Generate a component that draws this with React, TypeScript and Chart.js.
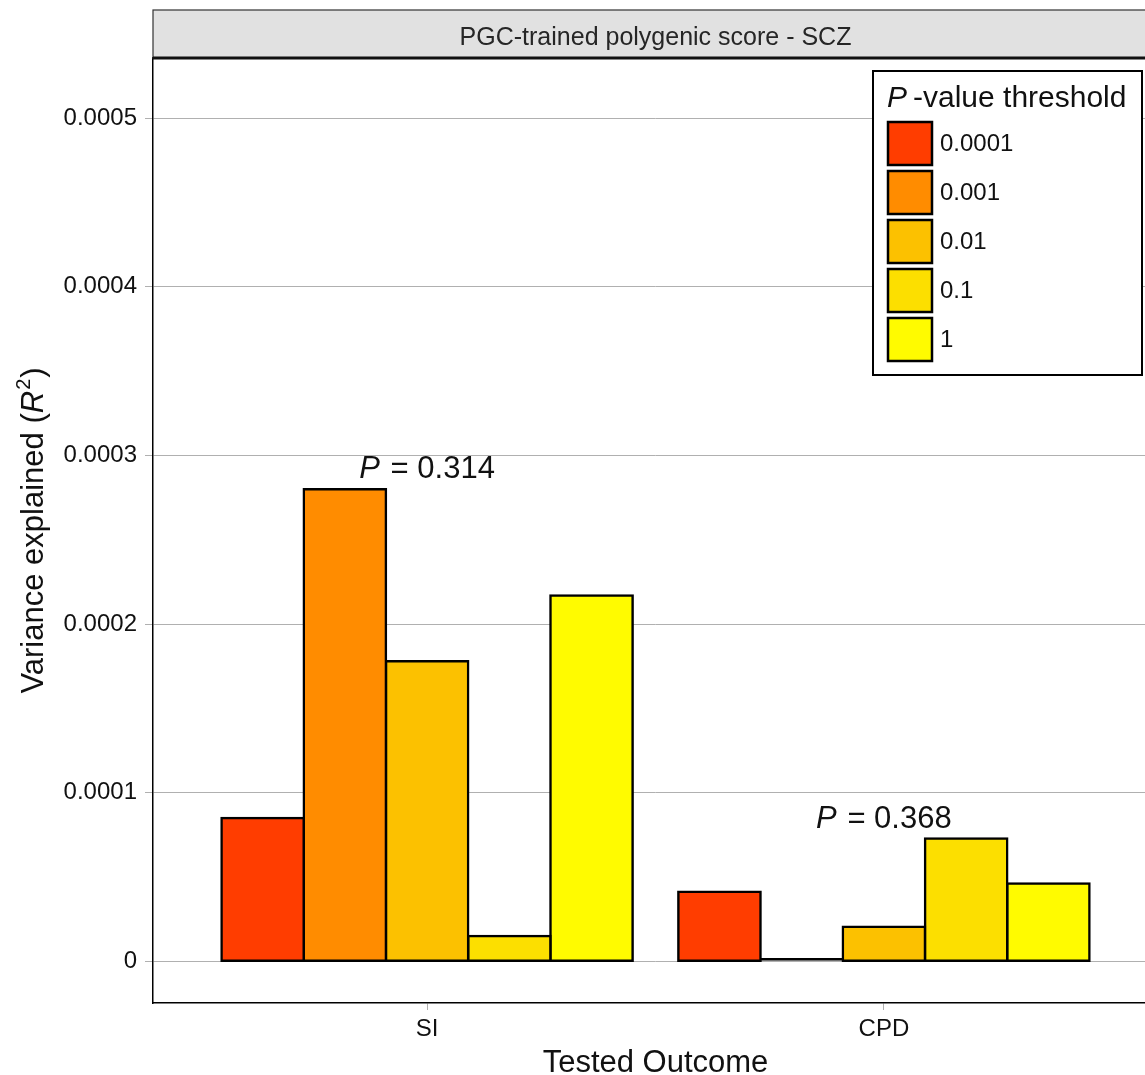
import React, { useEffect, useRef } from "react";
import { Chart, registerables } from "chart.js";

Chart.register(...registerables);

// Tested outcomes (x categories) and PRS p-value thresholds (series)
const outcomes = ["SI", "CPD"];
const thresholds = ["0.0001", "0.001", "0.01", "0.1", "1"];
const fillColors = ["#FF3D00", "#FF8C00", "#FCC100", "#FCDF00", "#FFFB00"];

// Variance explained (R^2) per threshold, ordered as in `outcomes`
const r2At0001 = [0.000085, 0.0000412];
const r2At001 = [0.00028, 0.000002];
const r2At01 = [0.000178, 0.0000205];
const r2At1 = [0.000015, 0.0000728];
const r2AtAll = [0.000217, 0.0000461];
const seriesValues = [r2At0001, r2At001, r2At01, r2At1, r2AtAll];

// P-value of the best-fitting score per outcome
const bestPValues = ["0.314", "0.368"];

const yTickValues = [0, 0.0001, 0.0002, 0.0003, 0.0004, 0.0005];
const yTickLabels = ["0", "0.0001", "0.0002", "0.0003", "0.0004", "0.0005"];
const panelTitle = "PGC-trained polygenic score - SCZ";
const xTitle = "Tested Outcome";

const FONT = '"Liberation Sans", Arial, Helvetica, sans-serif';
const INK = "#111111";
const OUTLINE = 2.5;

type Piece = { text: string; italic?: boolean; size?: number; rise?: number; gapAfter?: number };

function pieceFont(p: Piece, base: number) {
  return `${p.italic ? "italic " : ""}${p.size ?? base}px ${FONT}`;
}

function measurePieces(ctx: CanvasRenderingContext2D, pieces: Piece[], base: number) {
  let w = 0;
  for (const p of pieces) {
    ctx.font = pieceFont(p, base);
    w += ctx.measureText(p.text).width + (p.gapAfter ?? 0);
  }
  return w;
}

function drawPieces(
  ctx: CanvasRenderingContext2D,
  pieces: Piece[],
  x: number,
  y: number,
  base: number,
  align: "left" | "center"
) {
  const total = measurePieces(ctx, pieces, base);
  let cx = align === "center" ? x - total / 2 : x;
  ctx.textAlign = "left";
  ctx.textBaseline = "alphabetic";
  for (const p of pieces) {
    ctx.font = pieceFont(p, base);
    ctx.fillText(p.text, cx, y - (p.rise ?? 0));
    cx += ctx.measureText(p.text).width + (p.gapAfter ?? 0);
  }
}

const decorations = {
  id: "decorations",
  afterDraw(chart: any) {
    const { ctx, chartArea: a, scales } = chart;
    const xs = scales.x;
    const ys = scales.y;
    ctx.save();

    // facet strip
    const stripTop = 10;
    ctx.fillStyle = "#E1E1E1";
    ctx.fillRect(a.left, stripTop, a.right - a.left, a.top - stripTop);
    ctx.strokeStyle = "#333333";
    ctx.lineWidth = 1.2;
    ctx.strokeRect(a.left, stripTop, a.right - a.left, a.top - stripTop);
    ctx.strokeStyle = "#111111";
    ctx.lineWidth = 2.8;
    ctx.beginPath();
    ctx.moveTo(a.left, a.top);
    ctx.lineTo(a.right, a.top);
    ctx.stroke();
    ctx.fillStyle = "#262626";
    ctx.font = `25px ${FONT}`;
    ctx.textAlign = "center";
    ctx.textBaseline = "alphabetic";
    ctx.fillText(panelTitle, (a.left + a.right) / 2, 45);

    // p-value labels above the tallest bar of each outcome
    outcomes.forEach((_, j) => {
      const top = Math.max(...seriesValues.map((s) => s[j]));
      const px = xs.getPixelForValue(j + 1);
      const py = ys.getPixelForValue(top + 0.0000065);
      ctx.fillStyle = INK;
      drawPieces(
        ctx,
        [{ text: "P", italic: true, gapAfter: 2 }, { text: " = " + bestPValues[j] }],
        px,
        py,
        31,
        "center"
      );
    });

    // legend box
    const lx = 873, ly = 71, lw = 269, lh = 304;
    ctx.fillStyle = "#ffffff";
    ctx.fillRect(lx, ly, lw, lh);
    ctx.strokeStyle = "#000";
    ctx.lineWidth = 2;
    ctx.strokeRect(lx, ly, lw, lh);
    ctx.fillStyle = INK;
    drawPieces(
      ctx,
      [{ text: "P", italic: true, gapAfter: 6 }, { text: "-value threshold" }],
      lx + 14,
      ly + 36,
      30,
      "left"
    );
    chart.data.datasets.forEach((ds: any, i: number) => {
      const sx = lx + 14;
      const sy = ly + 50 + i * 49;
      ctx.fillStyle = ds.backgroundColor;
      ctx.fillRect(sx, sy, 46, 45);
      ctx.strokeStyle = "#000";
      ctx.lineWidth = 2.5;
      ctx.strokeRect(sx + 1, sy + 1, 44, 43);
      ctx.fillStyle = INK;
      ctx.font = `24px ${FONT}`;
      ctx.textAlign = "left";
      ctx.textBaseline = "middle";
      ctx.fillText(ds.label, sx + 53, sy + 23);
    });

    // axis titles
    ctx.fillStyle = INK;
    drawPieces(ctx, [{ text: xTitle }], (a.left + a.right) / 2, 1072, 31, "center");

    ctx.save();
    ctx.translate(43, (a.top + a.bottom) / 2);
    ctx.rotate(-Math.PI / 2);
    drawPieces(
      ctx,
      [
        { text: "Variance explained (" },
        { text: "R", italic: true, gapAfter: 1 },
        { text: "2", size: 20, rise: 13, gapAfter: 1 },
        { text: ")" },
      ],
      0,
      0,
      31,
      "center"
    );
    ctx.restore();

    ctx.restore();
  },
};

export default function App() {
  const canvasRef = useRef<HTMLCanvasElement | null>(null);

  useEffect(() => {
    const canvas = canvasRef.current;
    if (!canvas) return;

    // outline centred on the bar edge; very short bars become a solid outline
    const centredInflate = (c: any) => {
      const ys = c.chart.scales.y;
      const v = c.raw && typeof c.raw.y === "number" ? c.raw.y : 0;
      if (!ys) return OUTLINE / 2;
      const h = Math.abs(ys.getPixelForValue(v) - ys.getPixelForValue(0));
      return h > OUTLINE * 2 ? OUTLINE / 2 : 0;
    };

    const datasets = thresholds.map((t, i) => ({
      label: t,
      data: outcomes.map((_, j) => ({ x: j + 1, y: seriesValues[i][j] })),
      backgroundColor: fillColors[i],
      borderColor: "#000000",
      borderWidth: OUTLINE,
      borderSkipped: false as const,
      inflateAmount: centredInflate,
      categoryPercentage: 0.9,
      barPercentage: 1,
    }));

    const chart = new Chart(canvas, {
      type: "bar",
      data: { datasets },
      options: {
        responsive: false,
        animation: false,
        devicePixelRatio: 1,
        layout: { padding: { top: 58, left: 0, right: 0, bottom: 0 } },
        plugins: {
          legend: { display: false },
          title: { display: false },
          tooltip: { enabled: false },
        },
        events: [],
        scales: {
          x: {
            type: "linear",
            min: 0.4,
            max: 2.6,
            offset: false,
            afterBuildTicks: (s: any) => {
              s.ticks = outcomes.map((_, j) => ({ value: j + 1 }));
            },
            afterFit: (s: any) => {
              s.height = 72;
            },
            ticks: {
              callback: (_v: any, i: number) => outcomes[i],
              font: { family: FONT, size: 24 },
              color: INK,
              padding: 5,
              maxRotation: 0,
            },
            grid: {
              offset: false,
              drawOnChartArea: false,
              drawTicks: true,
              tickLength: 7,
              color: "#b0b0b0",
              lineWidth: 1,
            },
            border: { display: true, color: "#000", width: 1.5 },
          },
          y: {
            type: "linear",
            min: -0.0000247,
            max: 0.0005357,
            afterBuildTicks: (s: any) => {
              s.ticks = yTickValues.map((v) => ({ value: v }));
            },
            afterFit: (s: any) => {
              s.width = 153;
            },
            ticks: {
              callback: (_v: any, i: number) => yTickLabels[i],
              font: { family: FONT, size: 24 },
              color: INK,
              padding: 8,
            },
            grid: {
              drawTicks: true,
              tickLength: 8,
              color: "#b0b0b0",
              lineWidth: 1,
            },
            border: { display: true, color: "#000", width: 1.5 },
          },
        },
      },
      plugins: [decorations],
    } as any);

    return () => chart.destroy();
  }, []);

  return (
    <div
      style={{
        position: "absolute",
        left: 0,
        top: 0,
        width: 1145,
        height: 1075,
        overflow: "hidden",
        background: "#ffffff",
      }}
    >
      <canvas ref={canvasRef} width={1158} height={1075} style={{ width: 1158, height: 1075, display: "block" }} />
    </div>
  );
}
